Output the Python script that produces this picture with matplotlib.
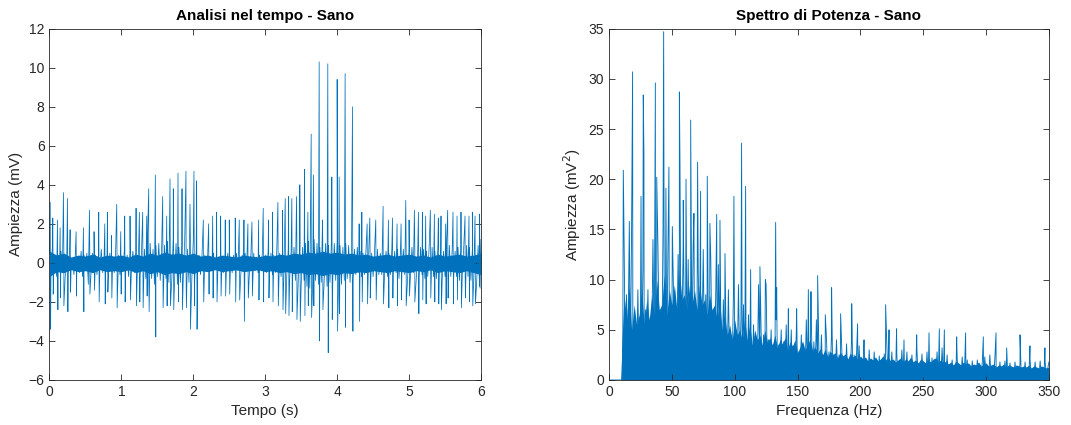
import numpy as np
import matplotlib.pyplot as plt

plt.rcParams['font.family'] = ['Liberation Sans', 'DejaVu Sans']

# ---------------- segnale nel tempo ----------------
# picchi principali: istante (s), massimo e minimo (mV)
picchi_t = [0.010, 0.046, 0.111, 0.148, 0.194, 0.250, 0.287, 0.370, 0.472, 0.556,
            0.620, 0.685, 0.769, 0.806, 0.861, 0.935, 0.991, 1.046, 1.120, 1.204,
            1.250, 1.296, 1.352, 1.380, 1.472, 1.574, 1.630, 1.676, 1.722, 1.787,
            1.843, 1.898, 1.954, 2.009, 2.046, 2.139, 2.213, 2.269, 2.324, 2.380,
            2.444, 2.500, 2.583, 2.639, 2.704, 2.759, 2.815, 2.907, 2.972, 3.046,
            3.102, 3.176, 3.241, 3.278, 3.324, 3.370, 3.435, 3.481, 3.546, 3.593,
            3.639, 3.670, 3.750, 3.796, 3.870, 3.926, 4.000, 4.028, 4.111, 4.213,
            4.306, 4.343, 4.417, 4.454, 4.537, 4.639, 4.713, 4.769, 4.833, 4.889,
            4.954, 5.000, 5.074, 5.130, 5.185, 5.231, 5.296, 5.352, 5.407, 5.444,
            5.509, 5.537, 5.611, 5.667, 5.722, 5.778, 5.833, 5.880, 5.917, 5.981]
picchi_max = [3.1, 2.3, 2.2, 1.8, 3.6, 3.3, 1.7, 1.6, 1.8, 2.7,
              1.6, 2.6, 2.0, 2.6, 1.4, 3.0, 1.6, 2.4, 2.4, 2.8,
              2.6, 2.6, 2.4, 3.8, 4.5, 3.4, 2.4, 4.3, 3.8, 4.6,
              3.8, 4.7, 3.0, 4.7, 4.2, 2.2, 2.0, 2.4, 2.6, 2.4,
              2.2, 2.2, 2.3, 2.2, 2.2, 2.0, 2.1, 2.2, 2.8, 2.2,
              2.6, 3.1, 2.7, 3.3, 3.4, 3.3, 3.4, 4.0, 4.8, 2.6,
              6.6, 4.5, 10.3, 2.2, 10.2, 4.4, 9.4, 4.4, 9.7, 8.0,
              2.0, 2.6, 2.0, 2.3, 2.2, 2.9, 2.2, 2.3, 2.0, 2.0,
              3.2, 2.2, 2.7, 2.6, 2.6, 2.4, 2.7, 2.5, 2.3, 2.4,
              2.0, 2.7, 2.6, 2.4, 2.6, 2.4, 2.4, 2.6, 2.4, 2.5]
picchi_min = [-3.4, -1.6, -2.4, -1.8, -2.2, -2.5, -1.5, -1.7, -2.5, -1.6,
              -1.4, -2.0, -2.1, -1.5, -1.8, -2.3, -1.6, -2.0, -1.9, -2.2,
              -2.0, -2.3, -1.7, -2.5, -3.8, -2.3, -2.2, -2.2, -2.4, -2.0,
              -2.4, -2.3, -3.4, -2.2, -3.4, -2.0, -1.6, -1.8, -2.0, -1.7,
              -1.7, -1.6, -2.0, -1.9, -3.0, -1.8, -1.7, -1.9, -2.0, -1.8,
              -2.0, -2.2, -2.4, -2.6, -2.7, -2.5, -2.9, -3.0, -2.7, -2.2,
              -2.8, -2.2, -4.0, -2.4, -4.6, -2.9, -3.5, -2.6, -3.3, -3.5,
              -3.0, -2.0, -2.1, -1.8, -1.9, -2.1, -2.3, -1.8, -2.2, -1.9,
              -2.2, -1.7, -2.0, -2.6, -1.9, -2.1, -1.8, -2.0, -2.1, -2.4,
              -2.1, -1.8, -2.1, -1.9, -2.3, -1.8, -2.0, -2.2, -2.1, -1.3]

# oscillazione di fondo, un campione ogni 0.02 s (0 ... 6 s)
passo_rumore = 0.02
rumore = [0.5, -0.6, 0.8, -0.4, 0.3, -0.7, 0.4, -0.3, 0.6, -0.5,
          0.4, -0.6, 0.3, -0.5, 0.6, -0.4, 0.2, -0.6, 0.5, -0.3,
          0.3, -0.5, 0.6, -0.7, 0.4, -0.3, 0.5, -1.1, 0.6, -0.4,
          0.5, -0.3, 0.4, -0.6, 0.3, -0.4, 0.7, -0.5, 0.4, -0.3,
          0.4, -0.6, 0.5, -0.4, 0.3, -0.5, 0.6, -0.3, 0.4, -0.6,
          0.3, -0.4, 0.6, -0.5, 0.4, -0.7, 0.5, -0.3, 0.6, -0.5,
          0.5, -0.6, 0.8, -0.7, 0.6, -0.9, 0.7, -0.8, 0.9, -0.6,
          1.0, -0.8, 0.7, -1.1, 0.9, -0.7, 1.0, -0.9, 0.8, -1.2,
          0.9, -0.8, 1.1, -1.0, 0.7, -0.9, 1.2, -0.8, 1.0, -1.1,
          0.8, -1.0, 0.9, -0.8, 1.1, -0.9, 0.7, -1.0, 0.9, -0.7,
          1.2, -0.8, 0.6, -0.5, 0.4, -0.6, 0.3, -0.5, 0.4, -0.3,
          0.4, -0.5, 0.3, -0.4, 0.5, -0.3, 0.4, -0.5, 0.3, -0.4,
          0.3, -0.5, 0.4, -0.3, 0.5, -0.4, 0.3, -0.5, 0.4, -0.3,
          0.5, -0.4, 0.3, -0.6, 0.4, -0.3, 0.5, -0.4, 0.3, -0.5,
          0.4, -0.3, 0.5, -0.4, 0.3, -0.5, 0.4, -0.3, 0.5, -0.4,
          0.4, -0.5, 0.6, -0.4, 0.5, -0.6, 0.4, -0.5, 0.6, -0.4,
          0.5, -0.7, 0.6, -0.5, 0.8, -0.6, 0.7, -0.8, 0.6, -0.9,
          0.8, -0.9, 1.0, -0.8, 0.9, -1.1, 0.8, -0.9, 1.0, -1.2,
          1.1, -1.3, 0.9, -1.0, 1.2, -0.9, 1.0, -1.1, 0.8, -1.0,
          1.1, -0.9, 1.0, -1.2, 0.9, -1.0, 1.1, -0.8, 1.0, -0.9,
          1.1, -1.0, 0.9, -1.1, 0.8, -0.9, 1.0, -0.8, 0.9, -1.0,
          0.8, -0.9, 0.7, -0.6, 0.8, -0.5, 0.6, -0.7, 0.5, -0.6,
          0.6, -0.5, 0.7, -0.6, 0.5, -0.7, 0.6, -0.5, 0.7, -0.6,
          0.5, -0.6, 0.7, -0.5, 0.6, -0.7, 0.5, -0.6, 0.7, -0.5,
          0.6, -0.5, 0.7, -0.8, 0.6, -0.5, 0.7, -0.6, 0.5, -0.7,
          0.7, -0.6, 0.8, -0.5, 0.7, -0.8, 0.6, -0.7, 0.8, -0.6,
          0.7, -0.8, 0.6, -0.7, 0.9, -0.6, 0.8, -0.7, 0.6, -0.8,
          0.8, -0.6, 0.7, -0.9, 0.6, -0.7, 0.8, -0.6, 0.9, -0.7,
          0.7, -0.8, 0.6, -0.7, 0.8, -0.9, 0.7, -0.6, 0.8, -0.7,
          0.9, -0.7, 0.8, -0.9, 0.7, -0.8, 0.6, -1.0, 0.9, -1.2,
          1.2]

# fascia scura attorno allo zero, bordo superiore e inferiore ogni 0.1 s
passo_fascia = 0.1
fascia_su = [0.6, 0.4, 0.5, 0.3, 0.4, 0.35, 0.45, 0.3, 0.4, 0.35,
             0.4, 0.3, 0.45, 0.35, 0.5, 0.4, 0.55, 0.45, 0.5, 0.4,
             0.5, 0.35, 0.4, 0.3, 0.4, 0.35, 0.3, 0.4, 0.35, 0.3,
             0.4, 0.35, 0.45, 0.4, 0.5, 0.45, 0.55, 0.5, 0.6, 0.5,
             0.55, 0.45, 0.5, 0.4, 0.45, 0.35, 0.4, 0.45, 0.35, 0.4,
             0.45, 0.35, 0.4, 0.3, 0.45, 0.35, 0.4, 0.45, 0.35, 0.4,
             0.5]
fascia_giu = [-0.7, -0.45, -0.5, -0.35, -0.45, -0.4, -0.5, -0.35, -0.45, -0.4,
              -0.45, -0.35, -0.5, -0.4, -0.55, -0.45, -0.6, -0.5, -0.55, -0.45,
              -0.55, -0.4, -0.45, -0.35, -0.45, -0.4, -0.35, -0.45, -0.4, -0.35,
              -0.45, -0.4, -0.5, -0.45, -0.55, -0.5, -0.6, -0.55, -0.65, -0.55,
              -0.6, -0.5, -0.55, -0.45, -0.5, -0.4, -0.45, -0.5, -0.4, -0.45,
              -0.5, -0.4, -0.45, -0.35, -0.5, -0.4, -0.45, -0.5, -0.4, -0.5,
              -0.6]

# ---------------- spettro di potenza (un valore per Hz, 0 ... 350) ----------------
spettro = [0, 0, 0, 0, 0, 0, 0, 0, 0, 0,
           0, 3.0, 14.2, 1.5, 8.5, 2.0, 13.0, 1.2, 15.3, 2.5,
           0.8, 6.0, 1.5, 9.0, 0.5, 4.5, 2.2, 11.0, 1.0, 7.0,
           2.5, 9.0, 1.0, 5.5, 3.0, 14.0, 1.8, 7.5, 2.5, 13.0,
           3.0, 6.5, 1.5, 15.0, 4.0, 8.5, 2.0, 14.0, 3.5, 7.2,
           2.5, 11.0, 4.0, 6.0, 3.0, 12.5, 2.0, 8.0, 4.5, 13.0,
           2.5, 7.0, 3.5, 12.0, 1.5, 8.0, 3.0, 13.5, 2.0, 6.0,
           3.0, 11.0, 2.0, 7.0, 3.5, 13.0, 1.5, 8.5, 2.5, 6.0,
           2.0, 12.0, 1.5, 6.5, 3.0, 9.0, 1.0, 11.5, 2.0, 5.5,
           1.5, 8.0, 2.5, 5.5, 0.8, 9.0, 1.5, 4.5, 1.0, 8.5,
           1.2, 5.0, 0.6, 9.5, 1.5, 6.0, 0.8, 7.5, 1.0, 4.0,
           0.5, 6.5, 1.0, 4.5, 0.8, 5.5, 1.2, 4.0, 0.5, 9.5,
           1.0, 5.0, 0.6, 4.5, 0.8, 9.5, 0.5, 4.0, 1.0, 5.0,
           0.4, 3.5, 0.8, 6.0, 0.5, 3.5, 1.0, 5.0, 0.3, 3.8,
           0.6, 5.5, 0.4, 3.5, 0.8, 5.0, 0.3, 3.2, 0.5, 4.6,
           0.4, 2.8, 0.6, 4.5, 0.3, 3.0, 0.5, 6.0, 0.4, 3.5,
           0.6, 5.5, 0.3, 3.8, 0.5, 6.0, 0.4, 3.0, 0.3, 4.5,
           0.5, 2.5, 0.3, 4.2, 0.6, 2.8, 0.4, 4.5, 0.3, 2.6,
           0.4, 4.0, 0.3, 2.5, 0.5, 3.8, 0.2, 2.2, 0.4, 3.6,
           0.3, 2.0, 0.5, 4.2, 0.2, 2.5, 0.4, 2.8, 0.3, 3.4,
           0.2, 1.8, 0.4, 3.2, 0.3, 1.6, 0.2, 3.0, 0.4, 1.5,
           0.3, 2.8, 0.2, 1.8, 0.3, 2.4, 0.4, 1.9, 0.2, 2.6,
           0.3, 3.6, 0.2, 2.0, 0.4, 2.8, 0.2, 1.8, 0.3, 2.5,
           0.2, 1.6, 0.3, 3.0, 0.2, 1.4, 0.3, 2.8, 0.2, 1.6,
           0.3, 2.5, 0.2, 1.8, 0.3, 3.0, 0.2, 1.4, 0.3, 2.6,
           0.2, 1.3, 0.3, 2.8, 0.2, 1.5, 0.3, 2.2, 0.2, 1.6,
           0.3, 2.8, 0.2, 1.6, 0.3, 3.2, 0.2, 1.4, 0.3, 2.5,
           0.2, 1.3, 0.3, 2.0, 0.2, 1.4, 0.3, 2.2, 0.2, 1.1,
           0.3, 2.3, 0.2, 1.6, 0.3, 2.0, 0.2, 1.4, 0.3, 1.9,
           0.2, 1.2, 0.3, 2.0, 0.2, 1.4, 0.3, 1.8, 0.2, 2.3,
           0.3, 1.1, 0.2, 2.5, 0.3, 1.2, 0.2, 2.2, 0.3, 1.0,
           0.2, 1.8, 0.3, 1.3, 0.2, 1.9, 0.3, 1.1, 0.2, 1.7,
           0.3, 1.0, 0.2, 1.8, 0.3, 1.2, 0.2, 1.7, 0.3, 0.9,
           0.2, 1.8, 0.3, 1.0, 0.2, 2.0, 0.3, 1.1, 0.2, 1.8,
           0.3, 0.9, 0.2, 1.9, 0.3, 1.0, 0.2, 1.8, 0.3, 1.1,
           1.8]

# righe isolate che sporgono sopra lo spettro: frequenza (Hz) e valore (mV^2)
picchi_f = [11.4, 16.2, 18.8, 25.5, 27.3, 27.8, 36.9, 38.0, 43.5, 45.3,
            47.7, 50.4, 56.0, 56.5, 59.1, 61.3, 65.0, 67.6, 70.5, 72.9,
            78.2, 80.3, 85.7, 88.3, 92.3, 99.4, 105.5, 108.7, 112.7, 120.1,
            124.4, 132.6, 133.4, 142.7, 149.3, 158.6, 160.7, 166.0, 172.1, 177.1,
            184.3, 193.1, 197.8, 202.9, 220.1, 222.8, 228.8, 234.7, 244.8, 254.6,
            262.8, 266.8, 276.6, 283.7, 297.8, 307.9, 316.4, 327.0, 334.9, 346.8]
picchi_p = [20.9, 15.8, 30.7, 18.3, 28.4, 22.6, 29.6, 20.2, 34.7, 19.1,
            21.2, 15.3, 28.7, 21.4, 17.9, 20.0, 25.9, 16.6, 21.7, 18.8,
            20.3, 15.6, 16.5, 15.9, 12.6, 18.3, 23.6, 19.3, 11.0, 11.3,
            10.0, 15.7, 9.2, 7.1, 7.1, 9.0, 8.8, 10.4, 6.5, 9.2,
            6.6, 7.6, 5.6, 4.0, 7.5, 5.0, 5.1, 4.0, 4.5, 4.7,
            5.1, 5.0, 4.3, 4.7, 4.3, 4.7, 3.2, 4.5, 3.4, 3.2]

# parte compatta (scura) dello spettro, ogni 2 Hz da 10 a 350 Hz
nucleo_f0 = 10
passo_nucleo = 2
nucleo = [3.0, 8.5, 6.0, 9.5, 5.0, 7.5, 5.5, 6.5, 9.0, 5.5,
          8.0, 6.0, 8.5, 6.5, 10.0, 7.0, 7.5, 10.5, 6.5, 9.0,
          7.5, 9.5, 7.0, 11.0, 8.0, 8.5, 7.0, 9.5, 7.5, 9.0,
          7.0, 9.5, 7.5, 8.0, 6.5, 8.5, 7.0, 7.5, 6.0, 8.0,
          5.0, 6.5, 4.5, 5.5, 4.0, 6.0, 4.5, 5.0, 4.0, 6.0,
          4.0, 5.5, 3.5, 5.0, 4.0, 4.5, 3.5, 5.0, 3.8, 4.2,
          3.5, 4.5, 3.2, 4.0, 3.6, 4.2, 3.0, 3.8, 3.4, 4.0,
          2.7, 3.3, 3.9, 3.0, 3.5, 4.1, 2.9, 3.3, 2.7, 3.1,
          2.5, 3.1, 2.3, 2.9, 2.5, 2.7, 2.2, 2.8, 2.4, 2.6,
          2.1, 2.7, 2.3, 2.5, 2.0, 2.4, 2.1, 2.3, 1.9, 2.2,
          2.0, 2.3, 1.9, 2.1, 2.4, 2.0, 2.3, 1.9, 2.1, 1.8,
          2.0, 2.2, 1.8, 2.1, 1.9, 2.3, 1.8, 2.0, 1.7, 2.1,
          1.9, 1.7, 2.0, 1.8, 2.1, 2.2, 1.8, 2.0, 1.7, 1.9,
          1.6, 1.8, 1.5, 1.9, 1.7, 1.5, 1.8, 1.6, 1.7, 1.4,
          1.6, 1.5, 1.8, 1.4, 1.6, 1.7, 1.4, 1.5, 1.6, 1.3,
          1.5, 1.4, 1.6, 1.3, 1.5, 1.4, 1.3, 1.5, 1.4, 1.3,
          1.4, 1.3, 1.5, 1.2, 1.4, 1.3, 1.2, 1.4, 1.3, 1.2,
          1.3]

colore = '#0072BD'
grigio = '#262626'

# unisco fondo e picchi in un'unica traccia ordinata nel tempo
t_rumore = np.arange(len(rumore)) * passo_rumore
t = np.concatenate([t_rumore, picchi_t, np.array(picchi_t) + 0.006])
y = np.concatenate([rumore, picchi_max, picchi_min])
ordine = np.argsort(t, kind='stable')
t_fascia = np.arange(len(fascia_su)) * passo_fascia

f_base = np.arange(len(spettro))
f = np.concatenate([f_base, picchi_f])
p = np.concatenate([spettro, picchi_p])
ordine_f = np.argsort(f, kind='stable')
f_nucleo = nucleo_f0 + np.arange(len(nucleo)) * passo_nucleo

fig = plt.figure(figsize=(10.71, 4.25), dpi=100)
ax1 = fig.add_axes([0.0462, 0.1059, 0.4029, 0.8266])
ax2 = fig.add_axes([0.5686, 0.1059, 0.4108, 0.8266])

ax1.fill_between(t_fascia, fascia_giu, fascia_su, color=colore, linewidth=0)
ax1.plot(t[ordine], y[ordine], color=colore, linewidth=0.55)
ax1.set_xlim(0, 6)
ax1.set_ylim(-6, 12)
ax1.set_xticks(range(0, 7))
ax1.set_yticks(range(-6, 13, 2))
ax1.set_title('Analisi nel tempo - Sano', fontsize=11, fontweight='bold', pad=6)
ax1.set_xlabel('Tempo (s)', fontsize=11)
ax1.set_ylabel('Ampiezza (mV)', fontsize=11)

ax2.fill_between(f_nucleo, 0, nucleo, color=colore, linewidth=0)
ax2.plot(f[ordine_f], p[ordine_f], color=colore, linewidth=0.65)
ax2.set_xlim(0, 350)
ax2.set_ylim(0, 35)
ax2.set_xticks(range(0, 351, 50))
ax2.set_yticks(range(0, 36, 5))
ax2.set_title('Spettro di Potenza - Sano', fontsize=11, fontweight='bold', pad=6)
ax2.set_xlabel('Frequenza (Hz)', fontsize=11)
ax2.set_ylabel('Ampiezza (mV$^2$)', fontsize=11)

for ax in (ax1, ax2):
    for s in ax.spines.values():
        s.set_color(grigio)
        s.set_linewidth(0.6)
    ax.tick_params(direction='in', top=True, right=True, length=4, width=0.6,
                   colors=grigio, labelsize=10, labelcolor=grigio)
    ax.xaxis.label.set_color(grigio)
    ax.yaxis.label.set_color(grigio)

plt.savefig('out.png', dpi=100)
